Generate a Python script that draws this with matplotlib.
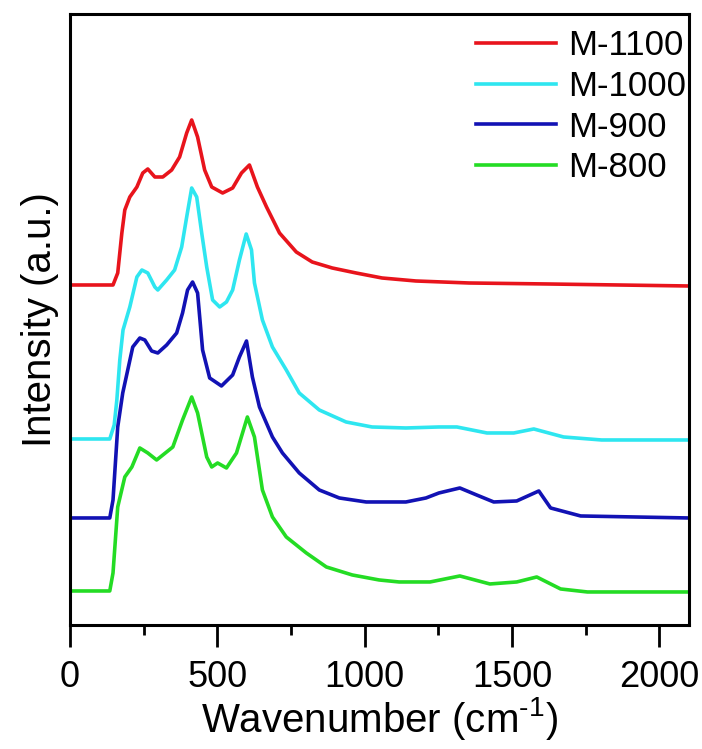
import matplotlib
matplotlib.use('Agg')
import matplotlib.pyplot as plt
from matplotlib.ticker import MultipleLocator

plt.rcParams['font.family'] = ['Liberation Sans', 'DejaVu Sans']
plt.rcParams['mathtext.fontset'] = 'custom'
plt.rcParams['mathtext.rm'] = 'Liberation Sans'

# 拉曼光谱数据（偏移后的强度）
wn_1100 = [0, 146, 162, 176, 186, 203, 227, 247, 264, 288, 315, 345, 372, 396, 413, 433, 457, 481, 518, 552, 582, 609,
           636, 667, 711, 768, 822, 890, 971, 1059, 1174, 1354, 1624, 2100]
int_1100 = [340, 340, 352, 392, 415, 428, 438, 452, 456, 448, 448, 455, 468, 492, 505, 488, 455, 438, 432, 437, 452, 460,
            438, 418, 392, 373, 363, 357, 352, 347, 344, 342, 341, 339]

wn_1000 = [0, 135, 150, 159, 169, 180, 203, 227, 244, 264, 288, 298, 328, 355, 379, 396, 413, 430, 447, 464, 484, 508,
           531, 552, 575, 598, 616, 626, 653, 687, 734, 778, 846, 937, 1025, 1140, 1252, 1313, 1415, 1506, 1574, 1675,
           1804, 2100]
int_1000 = [186, 186, 200, 225, 265, 295, 318, 348, 355, 352, 338, 335, 345, 355, 378, 408, 437, 428, 392, 358, 325, 318,
            323, 335, 365, 391, 375, 342, 305, 278, 255, 232, 215, 203, 198, 197, 198, 198, 192, 192, 196, 188,
            185, 185]

wn_900 = [0, 135, 146, 162, 179, 213, 237, 254, 277, 298, 328, 362, 382, 399, 416, 433, 450, 474, 514, 552, 575, 599,
          619, 643, 687, 721, 778, 846, 914, 1005, 1140, 1208, 1252, 1323, 1380, 1438, 1516, 1591, 1631, 1733, 2100]
int_900 = [107, 107, 125, 198, 232, 278, 287, 285, 274, 272, 280, 292, 312, 335, 343, 332, 275, 247, 239, 250, 268, 284,
           248, 218, 188, 172, 152, 135, 127, 123, 123, 127, 132, 137, 130, 123, 124, 134, 117, 109, 107]

wn_800 = [0, 135, 146, 162, 186, 210, 237, 264, 294, 349, 382, 413, 433, 464, 481, 501, 531, 565, 602, 626, 653, 687,
          734, 802, 870, 958, 1049, 1117, 1222, 1323, 1425, 1516, 1584, 1665, 1756, 2100]
int_800 = [34, 34, 52, 118, 148, 158, 177, 172, 165, 178, 205, 228, 212, 168, 158, 162, 157, 172, 208, 188, 135, 108,
           88, 72, 58, 50, 45, 43, 43, 49, 41, 43, 48, 36, 33, 33]

fig = plt.figure(figsize=(7.02, 7.49), dpi=100)
ax = fig.add_axes([0.0997, 0.1656, 0.8815, 0.8157])

ax.plot(wn_1100, int_1100, color='#e8141c', lw=2.6, label='M-1100')
ax.plot(wn_1000, int_1000, color='#2ee6f0', lw=2.6, label='M-1000')
ax.plot(wn_900, int_900, color='#1212b4', lw=2.6, label='M-900')
ax.plot(wn_800, int_800, color='#24dc24', lw=2.6, label='M-800')

ax.set_xlim(0, 2100)
ax.set_ylim(0, 611)
ax.xaxis.set_major_locator(MultipleLocator(500))
ax.xaxis.set_minor_locator(MultipleLocator(250))
ax.set_yticks([])
ax.tick_params(axis='x', which='major', direction='out', length=16, width=2, labelsize=26, pad=9)
ax.tick_params(axis='x', which='minor', direction='out', length=7, width=2)
for s in ax.spines.values():
    s.set_linewidth(2.2)

ax.set_xlabel('Wavenumber (cm$^{\\text{-1}}$)', fontsize=29, labelpad=0)
ax.set_ylabel('Intensity (a.u.)', fontsize=29, labelpad=8)

ax.legend(loc='upper right', bbox_to_anchor=(1.012, 0.992), frameon=False, fontsize=25, handlelength=2.3,
          handletextpad=0.35, labelspacing=0.22, borderaxespad=0, borderpad=0.3)

fig.savefig('out.png', dpi=100)
